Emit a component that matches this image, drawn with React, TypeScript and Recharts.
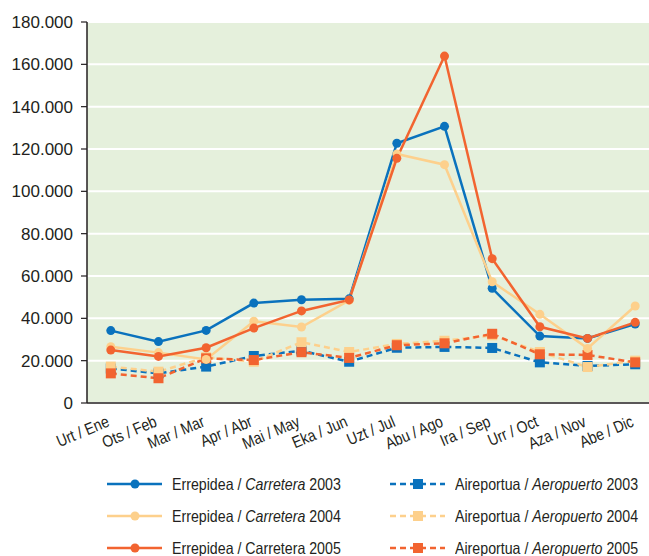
import React from 'react';
import { LineChart, Line, XAxis, YAxis, CartesianGrid } from 'recharts';

// months (euskara / castellano)
const months = ['Urt / Ene', 'Ots / Feb', 'Mar / Mar', 'Apr / Abr', 'Mai / May', 'Eka / Jun', 'Uzt / Jul', 'Abu / Ago', 'Ira / Sep', 'Urr / Oct', 'Aza / Nov', 'Abe / Dic'];

const road2003 = [34200, 29000, 34300, 47200, 48800, 49200, 122700, 130700, 54200, 31600, 30500, 37300];
const road2004 = [26600, 23800, 20600, 38600, 35900, 48500, 117600, 112600, 57300, 41900, 25800, 45800];
const road2005 = [25000, 22000, 26100, 35400, 43500, 48700, 115600, 163900, 68200, 36000, 30500, 38100];
const air2003 = [16300, 14000, 17200, 22200, 24700, 19500, 26100, 26500, 26000, 19200, 17500, 18300];
const air2004 = [17200, 14800, 21600, 19500, 28700, 24100, 27900, 29400, 32000, 24100, 17000, 20000];
const air2005 = [14000, 11700, 21100, 20300, 24000, 21300, 27300, 28200, 32700, 23000, 22700, 19200];

const yTicks = [0, 20000, 40000, 60000, 80000, 100000, 120000, 140000, 160000, 180000];
const bandTicks = [0, 1, 2, 3, 4, 5, 6, 7, 8, 9, 10, 11, 12];

const BLUE = '#0a72bd';
const LIGHT = '#fdd08c';
const ORANGE = '#f26430';
const INK = '#231f20';
const SANS = '"Liberation Sans", Arial, sans-serif';

const data = months.map((m, i) => ({
  month: m,
  r03: road2003[i],
  r04: road2004[i],
  r05: road2005[i],
  a03: air2003[i],
  a04: air2004[i],
  a05: air2005[i],
}));

const fmt = (v: number) => v.toLocaleString('de-DE');

// condensed look: no narrow font installed, so squeeze horizontally
const MonthTick = ({ x, y, payload }: any) => (
  <g transform={`translate(${x - 2},${y + 10})`}>
    <text x={0} y={0} dy={4} textAnchor="end" transform="rotate(-23) scale(0.85,1)" fill={INK} fontSize={16.5} fontFamily={SANS}>
      {payload.value}
    </text>
  </g>
);

const square = (color: string) => (props: any) => (
  <rect key={`sq-${props.index}`} x={props.cx - 5} y={props.cy - 5} width={10} height={10} fill={color} />
);

const legendLeft = [
  { color: BLUE, label: <>Errepidea / <i>Carretera</i> 2003</> },
  { color: LIGHT, label: <>Errepidea / <i>Carretera</i> 2004</> },
  { color: ORANGE, label: <>Errepidea / Carretera 2005</> },
];
const legendRight = [
  { color: BLUE, label: <>Aireportua / <i>Aeropuerto</i> 2003</> },
  { color: LIGHT, label: <>Aireportua / <i>Aeropuerto</i> 2004</> },
  { color: ORANGE, label: <>Aireportua / <i>Aeropuerto</i> 2005</> },
];

function LegendRow({ color, label, dashed, left, top }: any) {
  return (
    <div style={{ position: 'absolute', left, top, height: 20, display: 'flex', alignItems: 'center' }}>
      <svg width={55} height={14} style={{ marginRight: 10 }}>
        <line x1={0} y1={7} x2={55} y2={7} stroke={color} strokeWidth={2.5} strokeDasharray={dashed ? '6 4' : undefined} />
        {dashed ? <rect x={23} y={2} width={10} height={10} fill={color} /> : <circle cx={28} cy={7} r={4.5} fill={color} />}
      </svg>
      <span
        style={{
          display: 'inline-block',
          fontFamily: SANS,
          fontSize: 16.5,
          color: INK,
          whiteSpace: 'nowrap',
          transform: 'scaleX(0.86)',
          transformOrigin: 'left center',
        }}
      >
        {label}
      </span>
    </div>
  );
}

export default function App() {
  return (
    <div style={{ position: 'absolute', left: 0, top: 0, width: 649, height: 556, overflow: 'hidden', background: '#fff' }}>
      <LineChart width={659} height={460} data={data} margin={{ top: 22, right: 0, bottom: 0, left: 0 }}>
        <CartesianGrid xAxisId="cat" vertical={false} stroke="#ffffff" strokeWidth={2} fill="#e5f0dc" />
        <XAxis
          xAxisId="band"
          type="number"
          domain={[0, 12]}
          ticks={bandTicks}
          tick={false}
          height={1}
          tickSize={6}
          axisLine={{ stroke: INK, strokeWidth: 1.5 }}
          tickLine={{ stroke: INK, strokeWidth: 1.2 }}
        />
        <XAxis
          xAxisId="cat"
          dataKey="month"
          interval={0}
          padding={{ left: 23.8, right: 23.8 }}
          axisLine={false}
          tickLine={false}
          tick={<MonthTick />}
          height={56}
        />
        <YAxis
          width={87}
          domain={[0, 180000]}
          ticks={yTicks}
          tickFormatter={fmt}
          tickSize={6}
          tickMargin={8}
          axisLine={{ stroke: INK, strokeWidth: 1.5 }}
          tickLine={{ stroke: INK, strokeWidth: 1.2 }}
          tick={{ fill: INK, fontSize: 17, fontFamily: SANS }}
        />
        <Line xAxisId="cat" dataKey="a03" stroke={BLUE} strokeWidth={2.5} strokeDasharray="6 4" dot={square(BLUE)} isAnimationActive={false} />
        <Line xAxisId="cat" dataKey="a04" stroke={LIGHT} strokeWidth={2.5} strokeDasharray="6 4" dot={square(LIGHT)} isAnimationActive={false} />
        <Line xAxisId="cat" dataKey="a05" stroke={ORANGE} strokeWidth={2.5} strokeDasharray="6 4" dot={square(ORANGE)} isAnimationActive={false} />
        <Line xAxisId="cat" dataKey="r03" stroke={BLUE} strokeWidth={2.5} dot={{ r: 4.5, fill: BLUE, stroke: 'none' }} isAnimationActive={false} />
        <Line xAxisId="cat" dataKey="r04" stroke={LIGHT} strokeWidth={2.5} dot={{ r: 4.5, fill: LIGHT, stroke: 'none' }} isAnimationActive={false} />
        <Line xAxisId="cat" dataKey="r05" stroke={ORANGE} strokeWidth={2.5} dot={{ r: 4.5, fill: ORANGE, stroke: 'none' }} isAnimationActive={false} />
      </LineChart>
      {legendLeft.map((it, i) => (
        <LegendRow key={`l${i}`} color={it.color} label={it.label} left={107} top={474 + i * 32} />
      ))}
      {legendRight.map((it, i) => (
        <LegendRow key={`r${i}`} dashed color={it.color} label={it.label} left={390} top={474 + i * 32} />
      ))}
    </div>
  );
}
